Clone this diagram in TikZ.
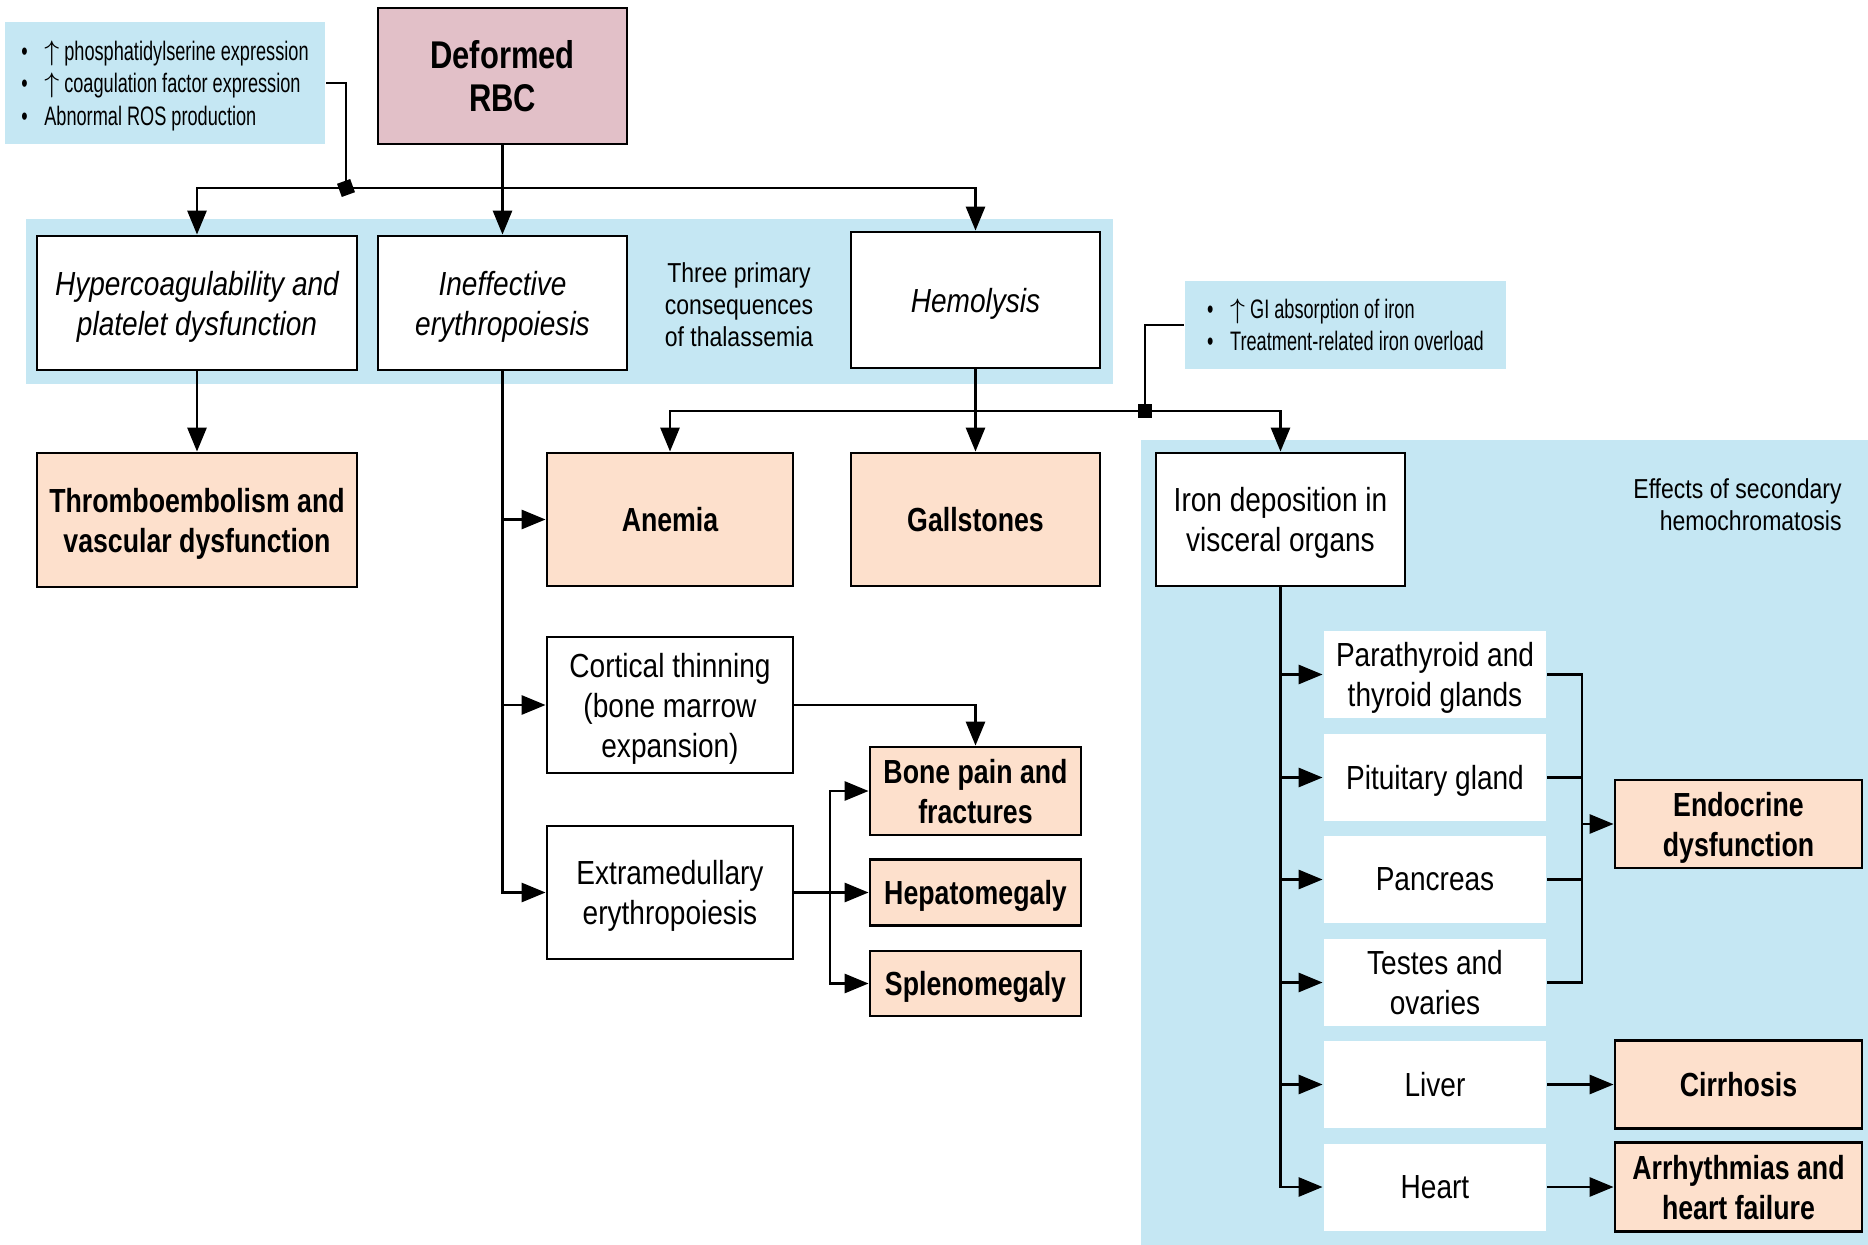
\documentclass[tikz,border=0pt]{standalone}
\usepackage{fontspec}
\setmainfont{Liberation Sans}[UprightFeatures={FakeStretch=0.84}, ItalicFeatures={FakeStretch=0.84}, BoldFeatures={FakeStretch=0.8}]
\newfontfamily\notefont{Liberation Sans}[FakeStretch=0.68]
\usepackage{tikz}
\usetikzlibrary{arrows.meta}
\definecolor{bandblue}{RGB}{197,231,243}
\definecolor{rbcpink}{RGB}{226,192,200}
\definecolor{peach}{RGB}{253,224,204}
\newcommand{\bul}{\makebox[2.3mm][l]{\textbullet}}

\begin{document}
\begin{tikzpicture}[x=1mm, y=-1mm, line width=0.8pt,
      box/.style={draw, fill=white, align=center, inner sep=1pt, text depth=0pt, font=\fontsize{9.5}{11.4}\selectfont},
      outcome/.style={box, fill=peach, font=\fontsize{9.5}{11.4}\selectfont\bfseries},
      organ/.style={fill=white, align=center, inner sep=1pt, text depth=0pt, minimum width=22.2mm, minimum height=8.7mm, font=\fontsize{9.5}{11.4}\selectfont},
      note/.style={fill=bandblue, align=left, inner sep=0pt, text depth=0pt, font=\notefont\fontsize{7.6}{9.2}\selectfont},
      label/.style={align=center, inner sep=0pt, font=\fontsize{7.8}{9.1}\selectfont},
      junc/.style={fill, minimum size=1.4mm, inner sep=0pt},
      arr/.style={-{Triangle[length=2.4mm, width=1.9mm]}}]
    \useasboundingbox (0,0) rectangle (186.8,124.5);
    \fill[bandblue] (2.6,21.9) rectangle (111.3,38.4);
    \fill[bandblue] (114.1,44.0) rectangle (186.8,124.5);

    \node[note, minimum width=32mm, minimum height=12.2mm] (incr) at (16.5,8.3)
      {\bul$\uparrow$ phosphatidylserine expression\\ \bul$\uparrow$ coagulation factor expression\\ \bul Abnormal ROS production};
    \node[box, fill=rbcpink, minimum width=24.9mm, minimum height=13.6mm, font=\fontsize{11}{12.2}\selectfont\bfseries] (rbc) at (50.25,7.6) {Deformed\\RBC};

    \node[box, minimum width=32mm, minimum height=13.4mm, font=\fontsize{9.5}{11.4}\selectfont\itshape] (hyper) at (19.7,30.3) {Hypercoagulability and\\platelet dysfunction};
    \node[box, minimum width=24.9mm, minimum height=13.4mm, font=\fontsize{9.5}{11.4}\selectfont\itshape] (ineff) at (50.25,30.3) {Ineffective\\erythropoiesis};
    \node[label] (three) at (73.9,30.5) {Three primary\\consequences\\of thalassemia};
    \node[box, minimum width=24.9mm, minimum height=13.6mm, font=\fontsize{9.5}{11.4}\selectfont\itshape] (hemo) at (97.55,30.0) {Hemolysis};

    \node[outcome, minimum width=32mm, minimum height=13.4mm] (thromb) at (19.7,52.0) {Thromboembolism and\\vascular dysfunction};
    \node[outcome, minimum width=24.6mm, minimum height=13.3mm] (anemia) at (67.0,51.95) {Anemia};
    \node[outcome, minimum width=24.9mm, minimum height=13.3mm] (gall) at (97.55,51.95) {Gallstones};

    \node[note, minimum width=32.1mm, minimum height=8.8mm] (gi) at (134.55,32.5)
      {\bul$\uparrow$ GI absorption of iron\\ \bul Treatment-related iron overload};
    \node[box, minimum width=24.9mm, minimum height=13.3mm] (iron) at (128.05,51.95) {Iron deposition in\\visceral organs};
    \node[label, align=right, anchor=east] (effects) at (184.3,50.5) {Effects of secondary\\hemochromatosis};

    \node[box, minimum width=24.6mm, minimum height=13.6mm] (cortical) at (67.0,70.5) {Cortical thinning\\(bone marrow\\expansion)};
    \node[box, minimum width=24.6mm, minimum height=13.3mm] (extra) at (67.0,89.25) {Extramedullary\\erythropoiesis};
    \node[outcome, minimum width=21.1mm, minimum height=8.8mm] (bone) at (97.55,79.1) {Bone pain and\\fractures};
    \node[outcome, minimum width=21.1mm, minimum height=6.6mm] (hepato) at (97.55,89.25) {Hepatomegaly};
    \node[outcome, minimum width=21.1mm, minimum height=6.5mm] (spleno) at (97.55,98.35) {Splenomegaly};

    \node[organ] (para) at (143.5,67.45) {Parathyroid and\\thyroid glands};
    \node[organ] (pit) at (143.5,77.75) {Pituitary gland};
    \node[organ] (panc) at (143.5,87.95) {Pancreas};
    \node[organ] (testes) at (143.5,98.25) {Testes and\\ovaries};
    \node[organ] (liver) at (143.5,108.45) {Liver};
    \node[organ] (heart) at (143.5,118.7) {Heart};

    \node[outcome, minimum width=24.7mm, minimum height=8.8mm] (endo) at (173.85,82.4) {Endocrine\\dysfunction};
    \node[outcome, minimum width=24.7mm, minimum height=8.8mm] (cirr) at (173.85,108.45) {Cirrhosis};
    \node[outcome, minimum width=24.7mm, minimum height=8.9mm] (arrh) at (173.85,118.7) {Arrhythmias and\\heart failure};

    \coordinate (j1) at (34.6,18.8);
    \coordinate (j2) at (114.5,41.1);
    \coordinate (split) at (83.0,89.25);
    \coordinate (brk) at (158.2,82.4);

    \draw[arr] (rbc.south) -- (ineff.north);
    \draw[arr] (j1) -| (hyper.north);
    \draw[arr] (j1) -| (hemo.north);
    \draw (incr.east) -| (j1);
    \draw[arr] (hyper.south) -- (thromb.north);

    \draw[arr] (ineff.south) |- (extra.west);
    \draw[arr] (ineff.south |- anemia.west) -- (anemia.west);
    \draw[arr] (ineff.south |- cortical.west) -- (cortical.west);
    \draw[arr] (cortical.east) -| (bone.north);
    \draw[arr] (extra.east) -- (hepato.west);
    \draw[arr] (split) |- (bone.west);
    \draw[arr] (split) |- (spleno.west);

    \draw[arr] (hemo.south) -- (gall.north);
    \draw[arr] (j2) -| (anemia.north);
    \draw[arr] (j2) -| (iron.north);
    \draw (gi.west) -| (j2);

    \draw[arr] (iron.south) |- (heart.west);
    \draw[arr] (iron.south |- para.west) -- (para.west);
    \draw[arr] (iron.south |- pit.west) -- (pit.west);
    \draw[arr] (iron.south |- panc.west) -- (panc.west);
    \draw[arr] (iron.south |- testes.west) -- (testes.west);
    \draw[arr] (iron.south |- liver.west) -- (liver.west);
    \draw (para.east) -| (brk) |- (testes.east);
    \draw (pit.east) -- (pit.east -| brk);
    \draw (panc.east) -- (panc.east -| brk);
    \draw[arr] (brk) -- (endo.west);
    \draw[arr] (liver.east) -- (cirr.west);
    \draw[arr] (heart.east) -- (arrh.west);

    \node[junc, rotate=20] (sq1) at (j1) {};
    \node[junc] (sq2) at (j2) {};
  \end{tikzpicture}
\end{document}
